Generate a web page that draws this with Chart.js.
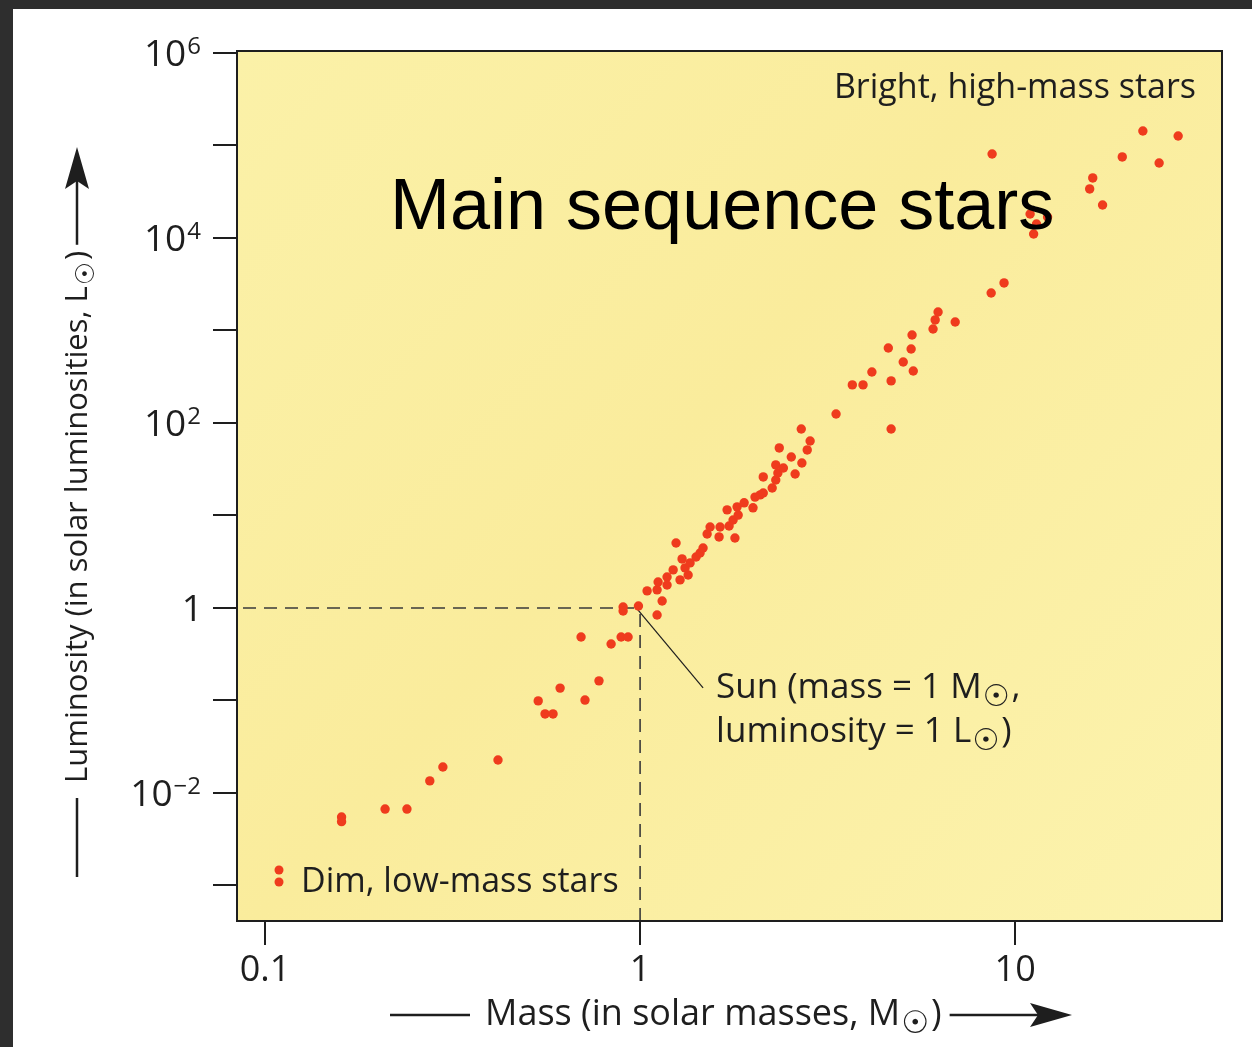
<!DOCTYPE html>
<html>
<head>
<meta charset="utf-8">
<script src="https://cdn.jsdelivr.net/npm/chart.js@4.4.1/dist/chart.umd.min.js"></script>
<style>
  html, body { margin:0; padding:0; background:#2e2e2e; }
  .page { position:absolute; left:13px; top:9px; width:1239px; height:1038px; background:#fff; }
  canvas { display:block; }
</style>
</head>
<body>
<div class="page"><canvas id="msChart" width="1239" height="1038"></canvas></div>
<script>
// stars (mass in M_sun, luminosity in L_sun)
const massMsun = [
  0.160, 0.160, 0.209, 0.239, 0.275, 0.298, 0.418, 0.535, 0.612, 0.558,
  0.586, 0.696, 0.713, 0.777, 0.837, 0.890, 0.929, 0.901, 0.901, 0.99,
  1.044, 1.11, 1.145, 1.11, 1.117, 1.18, 1.18, 1.225, 1.278, 1.343,
  1.318, 1.359, 1.294, 1.41, 1.445, 1.472, 1.247, 1.509, 1.624, 1.79,
  1.537, 1.634, 1.727, 1.77, 1.826, 1.706, 1.814, 1.894, 2.0, 2.025,
  2.09, 2.13, 2.25, 2.13, 2.30, 2.33, 2.59, 2.30, 2.41, 2.53,
  2.70, 2.35, 2.79, 2.84, 2.69, 3.33, 3.68, 3.93, 4.15, 4.67,
  4.67, 4.59, 5.28, 5.03, 5.35, 5.31, 6.04, 6.12, 6.23, 6.92,
  8.63, 9.34, 8.68, 10.96, 12.2, 11.4, 11.2, 16.1, 15.8, 17.1,
  19.3, 21.9, 24.2, 27.2
];
const lumLsun = [
  0.0055, 0.0049, 0.0067, 0.0067, 0.0135, 0.0191, 0.0227, 0.099, 0.136, 0.0715,
  0.0715, 0.486, 0.101, 0.163, 0.408, 0.486, 0.486, 1.025, 0.928, 1.05,
  1.53, 0.84, 1.19, 1.57, 1.91, 1.77, 2.16, 2.58, 2.01, 2.27,
  2.71, 3.07, 3.39, 3.56, 3.93, 4.45, 5.04, 6.31, 5.86, 5.71,
  7.51, 7.51, 7.70, 8.94, 10.1, 11.5, 12.4, 13.7, 12.1, 15.8,
  16.7, 17.5, 19.8, 26.1, 24.2, 28.8, 28.1, 35.2, 32.6, 42.9,
  36.9, 53.7, 51.1, 63.9, 86.1, 125, 258, 258, 356, 285,
  86.1, 647, 631, 456, 365, 894, 1038, 1300, 1585, 1236,
  2543, 3264, 80900, 18170, 16870, 14170, 11050, 44560, 33880, 22740,
  75150, 143500, 64700, 126700
];
const sunMass = 1, sunLum = 1;

const xTickValues = [0.1, 1, 10];
const yTickExps   = [-3, -2, -1, 0, 1, 2, 3, 4, 5, 6];
const yLabelExps  = [-2, 0, 2, 4, 6];
const xRange = [0.0842, 35.6];
const yRange = [4.13e-4, 1.05e6];

const titleText  = 'Main sequence stars';
const noteBright = 'Bright, high-mass stars';
const noteDim    = 'Dim, low-mass stars';
const xTitle     = ['Mass (in solar masses, M', '\u2609', ')'];
const yTitle     = ['Luminosity (in solar luminosities, L', '\u2609', ')'];
const sunNote    = [['Sun (mass = 1 M', '\u2609', ','], ['luminosity = 1 L', '\u2609', ')']];

// styles
const FONT = "'Open Sans', 'DejaVu Sans', sans-serif";
const INK = '#1e1e1e';
const DOT = '#ef3b1d';

const points = massMsun.map((m, i) => ({ x: m, y: lumLsun[i] }));

// text with a lowered sun symbol; odd parts are subscripts
function runs(ctx, parts, x, y, size){
  parts.forEach((p, i) => {
    const sub = i % 2 === 1;
    ctx.font = (sub ? Math.round(size*0.85) : size) + 'px ' + FONT;
    ctx.fillText(p, x + (sub ? 1 : 0), y + (sub ? size*0.22 : 0));
    x += ctx.measureText(p).width + (sub ? 3 : 0);
  });
  return x;
}
function arrow(ctx, x0, x1, y){
  ctx.beginPath(); ctx.moveTo(x0, y); ctx.lineTo(x1 - 30, y); ctx.stroke();
  ctx.beginPath();
  ctx.moveTo(x1, y); ctx.lineTo(x1 - 42, y - 12); ctx.lineTo(x1 - 34, y); ctx.lineTo(x1 - 42, y + 12);
  ctx.closePath(); ctx.fill();
}

const decor = {
  id: 'decor',
  beforeDraw(c){
    const {ctx, chartArea:{left, top, right, bottom}} = c;
    ctx.save();
    const g = ctx.createLinearGradient(left, top, right, bottom);
    g.addColorStop(0, '#fbf1a8');
    g.addColorStop(0.45, '#faec9c');
    g.addColorStop(1, '#fcf3ae');
    ctx.fillStyle = g;
    ctx.fillRect(left, top, right - left, bottom - top);
    ctx.restore();
  },
  beforeDatasetsDraw(c){
    const {ctx, chartArea:{left, bottom}, scales:{x, y}} = c;
    const sx = x.getPixelForValue(sunMass), sy = y.getPixelForValue(sunLum);
    ctx.save();
    ctx.strokeStyle = '#3a3a3a'; ctx.lineWidth = 1.6; ctx.setLineDash([13, 8]);
    ctx.beginPath(); ctx.moveTo(left + 6, sy); ctx.lineTo(sx, sy); ctx.stroke();
    ctx.beginPath(); ctx.moveTo(sx, sy + 6); ctx.lineTo(sx, bottom); ctx.stroke();
    ctx.setLineDash([]); ctx.lineWidth = 1.2; ctx.strokeStyle = INK;
    ctx.beginPath(); ctx.moveTo(sx - 3, sy + 1); ctx.lineTo(sx + 63, sy + 80); ctx.stroke();
    ctx.restore();
  },
  afterDatasetsDraw(c){
    const {ctx, chartArea:{left, top, right, bottom}, scales:{x, y}} = c;
    const sx = x.getPixelForValue(sunMass), sy = y.getPixelForValue(sunLum);
    ctx.save();
    ctx.fillStyle = INK; ctx.textBaseline = 'alphabetic';
    // sun note
    ctx.textAlign = 'left';
    runs(ctx, sunNote[0], sx + 76, sy + 90, 35);
    runs(ctx, sunNote[1], sx + 76, sy + 134, 35);
    // corner notes
    ctx.font = '34px ' + FONT; ctx.textAlign = 'right';
    ctx.fillText(noteBright, right - 26, top + 47);
    ctx.textAlign = 'left';
    ctx.fillText(noteDim, left + 64, bottom - 29);
    ctx.fillStyle = DOT;
    [-22, -10].forEach(dy => { ctx.beginPath(); ctx.arc(left + 42, bottom - 29 + dy, 4.5, 0, Math.PI*2); ctx.fill(); });
    // big title over the points
    ctx.fillStyle = '#000';
    ctx.font = "72px 'Liberation Sans', Arial, sans-serif";
    ctx.fillText(titleText, left + 153, top + 178);
    ctx.restore();
  },
  afterDraw(c){
    const {ctx, chartArea:{left, top, right, bottom}, scales:{y}} = c;
    ctx.save();
    ctx.strokeStyle = INK; ctx.lineWidth = 2;
    ctx.strokeRect(left, top, right - left, bottom - top);

    // y tick labels with superscripts
    ctx.fillStyle = INK; ctx.textAlign = 'left'; ctx.textBaseline = 'alphabetic';
    y.ticks.forEach(t => {
      const e = Math.round(Math.log10(t.value));
      if (!yLabelExps.includes(e)) return;
      const py = y.getPixelForValue(t.value);
      const xr = left - 36;
      ctx.font = '37px ' + FONT;
      if (e === 0){ const w = ctx.measureText('1').width; ctx.fillText('1', xr - w + 2, py + 13); return; }
      const sup = e < 0 ? '\u2212' + (-e) : String(e);
      const wb = ctx.measureText('10').width;
      ctx.font = '24px ' + FONT;
      const ws = ctx.measureText(sup).width;
      ctx.font = '37px ' + FONT;
      ctx.fillText('10', xr - ws - wb - 1, py + 13);
      ctx.font = '24px ' + FONT;
      ctx.fillText(sup, xr - ws, py + 1);
    });

    // x axis title
    ctx.lineWidth = 2.5; ctx.fillStyle = INK;
    ctx.beginPath(); ctx.moveTo(377, 1006); ctx.lineTo(457, 1006); ctx.stroke();
    const xe = runs(ctx, xTitle, 472, 1016, 36);
    arrow(ctx, xe + 8, 1059, 1006);

    // y axis title, rotated
    ctx.translate(74, 0); ctx.rotate(-Math.PI/2);
    ctx.beginPath(); ctx.moveTo(-868, -10); ctx.lineTo(-789, -10); ctx.stroke();
    const ye = runs(ctx, yTitle, -774, 0, 31);
    arrow(ctx, ye + 6, -138, -10);
    ctx.restore();
  }
};

const gridOpts = { drawOnChartArea:false, drawTicks:true, tickLength:24, color:INK, lineWidth:2 };

new Chart(document.getElementById('msChart'), {
  type: 'scatter',
  data: { datasets: [{ label:'Main sequence', data: points, backgroundColor: DOT, borderWidth: 0, pointRadius: 4.7, pointHoverRadius: 4.7 }] },
  options: {
    responsive:false, animation:false,
    layout:{ padding:{ top:42, right:30, left:0, bottom:0 } },
    plugins:{ legend:{ display:false }, tooltip:{ enabled:false } },
    scales:{
      x:{
        type:'logarithmic', min:xRange[0], max:xRange[1],
        afterBuildTicks: s => { s.ticks = xTickValues.map(v => ({ value:v })); },
        afterFit: s => { s.height = 126; },
        grid: gridOpts,
        border:{ display:true, color:INK, width:2 },
        ticks:{ font:{ family:FONT, size:36 }, color:INK, padding:4, maxRotation:0, autoSkip:false,
                callback: v => String(v) }
      },
      y:{
        type:'logarithmic', min:yRange[0], max:yRange[1],
        afterBuildTicks: s => { s.ticks = yTickExps.map(e => ({ value:Math.pow(10, e) })); },
        afterFit: s => { s.width = 224; },
        grid: gridOpts,
        border:{ display:true, color:INK, width:2 },
        ticks:{ display:false }
      }
    }
  },
  plugins:[decor]
});
</script>
</body>
</html>
